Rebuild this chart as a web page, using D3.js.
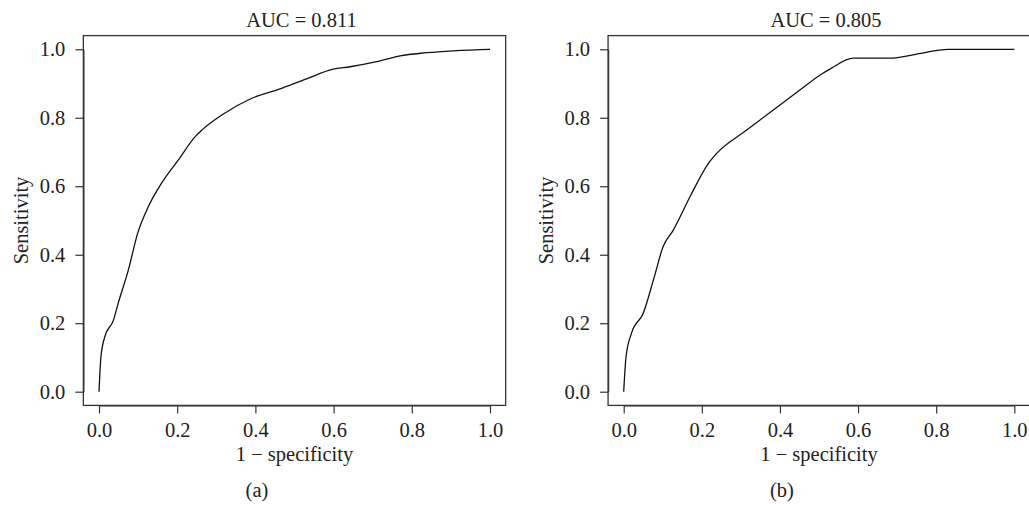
<!DOCTYPE html>
<html lang="en">
<head>
<meta charset="utf-8">
<title>ROC curves</title>
<script src="https://cdn.jsdelivr.net/npm/d3@7"></script>
<style>
  body { margin: 0; background: #fff; }
  text { font-family: "Liberation Serif", "DejaVu Serif", serif; fill: #222; }
</style>
</head>
<body>
<script>
// ROC curve (a): 1 - specificity vs sensitivity
var fprA  = [0, 0.005, 0.015, 0.037, 0.049, 0.075, 0.099, 0.126, 0.160, 0.203, 0.246, 0.263, 0.314, 0.391, 0.459, 0.527, 0.599, 0.642, 0.710, 0.770, 0.838, 1.0];
var sensA = [0, 0.102, 0.161, 0.209, 0.258, 0.355, 0.463, 0.540, 0.609, 0.677, 0.745, 0.764, 0.808, 0.857, 0.883, 0.912, 0.942, 0.949, 0.964, 0.981, 0.990, 1.0];

// ROC curve (b)
var fprB  = [0, 0.006, 0.020, 0.050, 0.076, 0.101, 0.127, 0.170, 0.217, 0.238, 0.315, 0.383, 0.451, 0.503, 0.528, 0.588, 0.682, 0.750, 0.831, 1.0];
var sensB = [0, 0.102, 0.171, 0.229, 0.326, 0.424, 0.472, 0.570, 0.667, 0.696, 0.764, 0.823, 0.881, 0.925, 0.942, 0.974, 0.974, 0.986, 1.0, 1.0];

var ticks  = [0, 0.2, 0.4, 0.6, 0.8, 1.0];
var titles = ["AUC = 0.811", "AUC = 0.805"];
var labels = ["(a)", "(b)"];

var W = 1029, H = 506;
var svg = d3.select("body").append("svg").attr("width", W).attr("height", H);

var panels = [
  { fpr: fprA, sens: sensA, x0: 99,    x1: 490,    title: titles[0], label: labels[0], labelX: 257 },
  { fpr: fprB, sens: sensB, x0: 623.7, x1: 1014.3, title: titles[1], label: labels[1], labelX: 782 }
];

var y = d3.scaleLinear().domain([0, 1]).range([391.7, 49.3]);
var fs = 20.5;

panels.forEach(function(p) {
  var x = d3.scaleLinear().domain([0, 1]).range([p.x0, p.x1]);
  var g = svg.append("g");

  // box (R style, 4% padding around data range)
  g.append("rect")
    .attr("x", x(-0.04)).attr("y", y(1.04))
    .attr("width", x(1.04) - x(-0.04)).attr("height", y(-0.04) - y(1.04))
    .attr("fill", "none").attr("stroke", "#333").attr("stroke-width", 1.3);

  var fmt = d3.format(".1f");

  var ax = g.append("g")
    .attr("transform", "translate(0," + y(-0.04) + ")")
    .call(d3.axisBottom(x).tickValues(ticks).tickFormat(fmt).tickSize(8).tickSizeOuter(0).tickPadding(9));
  var ay = g.append("g")
    .attr("transform", "translate(" + x(-0.04) + ",0)")
    .call(d3.axisLeft(y).tickValues(ticks).tickFormat(fmt).tickSize(8).tickSizeOuter(0).tickPadding(10));

  [ax, ay].forEach(function(a) {
    a.select(".domain").attr("stroke", "#333").attr("stroke-width", 1.3);
    a.selectAll(".tick line").attr("stroke", "#333").attr("stroke-width", 1.2);
    a.selectAll(".tick text").attr("font-size", fs).attr("fill", "#222")
      .style("font-family", "'Liberation Serif', serif");
  });

  var line = d3.line()
    .x(function(d) { return x(d[0]); })
    .y(function(d) { return y(d[1]); })
    .curve(d3.curveMonotoneX);

  g.append("path")
    .datum(d3.zip(p.fpr, p.sens))
    .attr("d", line)
    .attr("fill", "none").attr("stroke", "#111").attr("stroke-width", 1.3);

  g.append("text")
    .attr("x", (x(0) + x(1)) / 2 + 7).attr("y", 27)
    .attr("text-anchor", "middle").attr("font-size", fs)
    .text(p.title);

  g.append("text")
    .attr("x", (x(0) + x(1)) / 2).attr("y", 461)
    .attr("text-anchor", "middle").attr("font-size", fs)
    .text("1 \u2212 specificity");

  g.append("text")
    .attr("transform", "translate(" + (x(-0.04) - 55) + "," + y(0.5) + ") rotate(-90)")
    .attr("text-anchor", "middle").attr("font-size", fs)
    .text("Sensitivity");

  g.append("text")
    .attr("x", p.labelX).attr("y", 497)
    .attr("text-anchor", "middle").attr("font-size", fs)
    .text(p.label);
});
</script>
</body>
</html>
